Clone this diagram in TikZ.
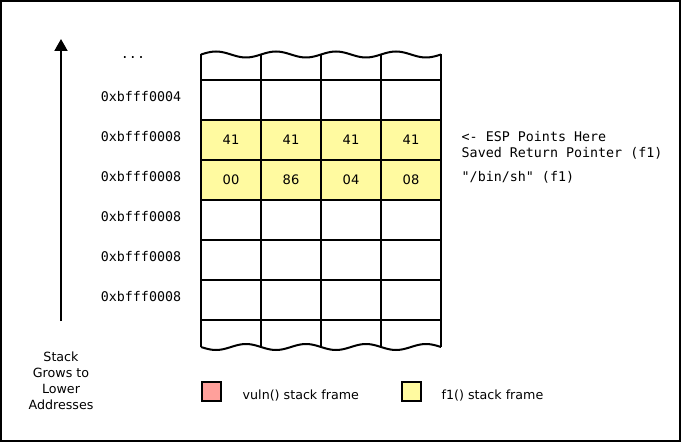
\documentclass[tikz,border=0pt]{standalone}
\usepackage{fontspec}
\setmainfont{DejaVu Sans}
\setmonofont{DejaVu Sans Mono}
\usepackage{xcolor}
\usetikzlibrary{arrows.meta}

\definecolor{frameyellow}{RGB}{255,250,160}
\definecolor{framepink}{RGB}{255,160,155}

\tikzset{
  addr/.style={font=\fontsize{10}{12}\selectfont\ttfamily},
  byte/.style={font=\fontsize{9.8}{12}\selectfont},
  note/.style={font=\fontsize{10}{12}\selectfont\ttfamily,anchor=west,align=left},
  legend/.style={font=\fontsize{9.5}{12}\selectfont},
  gridline/.style={line width=1.5pt},
  swatch/.style={draw,line width=1.5pt,minimum width=14.25pt,minimum height=14.25pt,inner sep=0pt}
}

\begin{document}
\begin{tikzpicture}[x=0.75pt,y=-0.75pt]
        \useasboundingbox (0,0) rectangle (681,442);
        \draw[line width=1.5pt] (1,1) rectangle (680,441);
        % f1() frame
        \fill[frameyellow] (201,120) rectangle (441,200);
        % torn edges
        \draw[gridline] plot[domain=201:441,samples=97,smooth] (\x,{54.5-3*sin(6*(\x-201))});
        \draw[gridline] plot[domain=201:441,samples=97,smooth] (\x,{347+3*sin(6*(\x-201))});
        \draw[gridline] (201,54.5) -- (201,347);
        \draw[gridline] (261,54.5) -- (261,347);
        \draw[gridline] (321,54.5) -- (321,347);
        \draw[gridline] (381,54.5) -- (381,347);
        \draw[gridline] (441,54.5) -- (441,347);
        \draw[gridline] (201,80) -- (441,80);
        \draw[gridline] (201,120) -- (441,120);
        \draw[gridline] (201,160) -- (441,160);
        \draw[gridline] (201,200) -- (441,200);
        \draw[gridline] (201,240) -- (441,240);
        \draw[gridline] (201,280) -- (441,280);
        \draw[gridline] (201,320) -- (441,320);
        % addresses
        \node[addr] (dots) at (133,58) {...};
        \node[addr] (addrA) at (141,97) {0xbfff0004};
        \node[addr] (addrB) at (141,137) {0xbfff0008};
        \node[addr] (addrC) at (141,177) {0xbfff0008};
        \node[addr] (addrD) at (141,217) {0xbfff0008};
        \node[addr] (addrE) at (141,257) {0xbfff0008};
        \node[addr] (addrF) at (141,297) {0xbfff0008};
        % bytes
        \node[byte] (bA1) at (231,140) {41};
        \node[byte] (bA2) at (291,140) {41};
        \node[byte] (bA3) at (351,140) {41};
        \node[byte] (bA4) at (411,140) {41};
        \node[byte] (bB1) at (231,180) {00};
        \node[byte] (bB2) at (291,180) {86};
        \node[byte] (bB3) at (351,180) {04};
        \node[byte] (bB4) at (411,180) {08};
        % notes
        \node[note] (esp) at (457,145) {<- ESP Points Here\\Saved Return Pointer (f1)};
        \node[note] (binsh) at (457,177) {"/bin/sh" (f1)};
        % growth arrow
        \coordinate (tail) at (61,321);
        \coordinate (tip) at (61,39);
        \draw[line width=1.5pt,-{Triangle[width=9.75pt,length=9pt]}] (tail) -- (tip);
        \node[legend,align=center] (grows) at (61,381) {Stack\\Grows to\\Lower\\Addresses};
        % legend
        \node[swatch,fill=framepink] (vuln) at (211,391) {};
        \node[legend,anchor=west] (vulntext) at (238,396) {vuln() stack frame};
        \node[swatch,fill=frameyellow] (f1) at (411,391) {};
        \node[legend,anchor=west] (f1text) at (437,396) {f1() stack frame};
\end{tikzpicture}
\end{document}
